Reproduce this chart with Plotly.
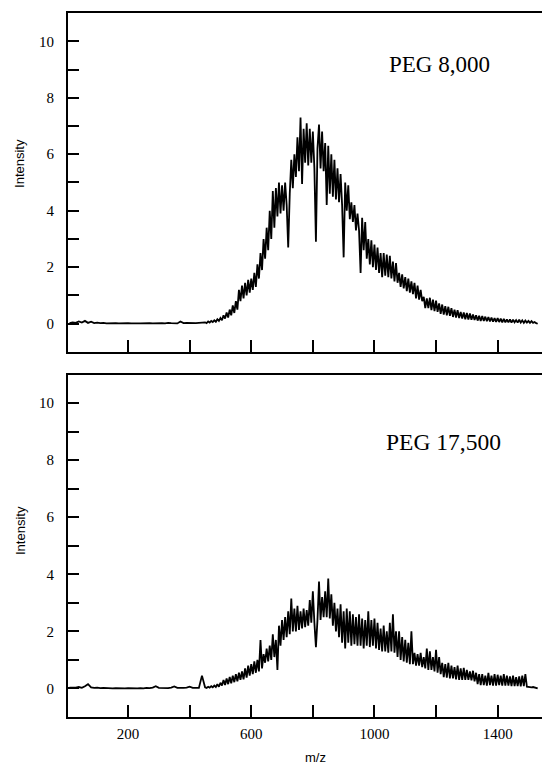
import plotly.graph_objects as go

# m/z grid: every 10 units on the flat baseline, every 5 units across the envelope
mz = list(range(10, 450, 10)) + list(range(450, 1531, 5))

# PEG 8,000 intensities
peg8000 = [
    # 10 - 440 (step 10)
    0.02, 0.05, 0.03, 0.08, 0.04, 0.10, 0.03, 0.07, 0.02, 0.04,
    0.02, 0.03, 0.01, 0.02, 0.01, 0.02, 0.01, 0.02, 0.01, 0.02,
    0.01, 0.02, 0.01, 0.01, 0.02, 0.01, 0.02, 0.01, 0.02, 0.01,
    0.02, 0.01, 0.03, 0.02, 0.02, 0.01, 0.08, 0.02, 0.03, 0.02,
    0.03, 0.02, 0.03, 0.04,
    # 450 - 1530 (step 5)
    0.05, 0.02, 0.08, 0.04, 0.10, 0.06, 0.12, 0.07, 0.16, 0.10,
    0.20, 0.12, 0.30, 0.18, 0.40, 0.22, 0.50, 0.30, 0.65, 0.38,
    0.80, 0.50, 1.20, 0.80, 1.35, 0.90, 1.45, 1.00, 1.55, 1.10,
    1.60, 1.20, 1.80, 1.30, 2.10, 1.60, 2.50, 1.90, 3.00, 2.30,
    3.40, 2.60, 4.00, 3.00, 4.70, 3.40, 4.80, 3.80, 5.00, 3.90,
    4.90, 4.00, 5.00, 4.20, 2.70, 4.60, 5.80, 4.80, 6.00, 5.20,
    6.60, 5.40, 7.30, 4.95, 6.90, 5.70, 7.10, 5.60, 6.90, 5.70,
    6.80, 5.50, 2.90, 6.20, 7.05, 5.50, 6.80, 5.40, 6.40, 4.20,
    6.30, 4.60, 6.00, 4.50, 5.80, 4.40, 5.50, 4.30, 5.30, 4.20,
    2.35, 5.00, 4.00, 4.90, 3.70, 4.30, 3.60, 4.20, 3.30, 3.90,
    3.30, 1.80, 3.75, 2.60, 3.60, 2.30, 3.00, 2.10, 2.95, 2.00,
    2.80, 1.90, 2.70, 1.80, 2.50, 1.65, 2.50, 1.70, 2.45, 1.65,
    2.40, 1.60, 2.20, 1.50, 2.15, 1.45, 1.80, 1.30, 1.75, 1.25,
    1.65, 1.15, 1.60, 1.10, 1.50, 1.05, 1.45, 0.90, 1.35, 0.85,
    1.20, 0.80, 0.95, 0.55, 0.90, 0.55, 0.92, 0.48, 0.85, 0.45,
    0.82, 0.42, 0.72, 0.35, 0.68, 0.32, 0.62, 0.30, 0.60, 0.28,
    0.55, 0.24, 0.50, 0.22, 0.48, 0.20, 0.42, 0.18, 0.40, 0.16,
    0.38, 0.15, 0.36, 0.14, 0.33, 0.13, 0.30, 0.11, 0.28, 0.10,
    0.27, 0.10, 0.25, 0.09, 0.24, 0.08, 0.22, 0.07, 0.20, 0.06,
    0.20, 0.06, 0.18, 0.05, 0.17, 0.05, 0.15, 0.05, 0.15, 0.04,
    0.14, 0.05, 0.13, 0.04, 0.14, 0.04, 0.12, 0.03, 0.11, 0.04,
    0.10, 0.03, 0.09, 0.03, 0.06, 0.02, 0.00,
]

# PEG 17,500 intensities
peg17500 = [
    # 10 - 440 (step 10)
    0.03, 0.02, 0.03, 0.05, 0.02, 0.08, 0.15, 0.04, 0.02, 0.03,
    0.01, 0.02, 0.01, 0.01, 0.00, 0.01, 0.00, 0.01, 0.00, 0.01,
    0.00, 0.01, 0.00, 0.01, 0.00, 0.02, 0.01, 0.03, 0.08, 0.02,
    0.01, 0.02, 0.01, 0.03, 0.07, 0.02, 0.01, 0.02, 0.03, 0.06,
    0.02, 0.03, 0.02, 0.45,
    # 450 - 1530 (step 5)
    0.04, 0.02, 0.06, 0.03, 0.08, 0.04, 0.10, 0.05, 0.15, 0.06,
    0.20, 0.10, 0.30, 0.12, 0.35, 0.15, 0.40, 0.18, 0.45, 0.22,
    0.50, 0.25, 0.55, 0.30, 0.60, 0.32, 0.70, 0.38, 0.80, 0.45,
    0.85, 0.50, 0.95, 0.55, 1.00, 0.60, 1.70, 0.70, 1.20, 0.90,
    1.40, 0.95, 1.50, 1.00, 1.90, 1.10, 1.70, 0.65, 2.20, 1.50,
    2.40, 1.70, 2.50, 1.80, 2.70, 1.90, 3.15, 2.00, 2.80, 2.00,
    2.90, 2.05, 2.70, 2.10, 2.80, 2.15, 2.75, 2.20, 3.10, 2.30,
    3.40, 2.30, 1.45, 2.40, 3.75, 2.40, 3.20, 2.50, 3.40, 2.50,
    3.85, 2.45, 3.30, 2.20, 3.00, 2.00, 2.80, 1.80, 2.95, 1.60,
    2.70, 1.40, 2.80, 1.60, 2.70, 1.50, 2.60, 1.55, 2.50, 1.50,
    2.60, 1.50, 2.45, 1.40, 2.40, 1.50, 2.70, 1.45, 2.40, 1.50,
    2.45, 1.40, 2.30, 1.35, 2.10, 1.30, 2.20, 1.30, 2.00, 1.25,
    2.30, 1.30, 2.60, 1.25, 2.00, 1.10, 2.00, 1.00, 1.80, 0.95,
    1.70, 0.90, 1.60, 0.85, 2.00, 0.85, 1.25, 0.80, 1.20, 0.80,
    1.25, 0.75, 1.10, 0.70, 1.40, 0.65, 1.30, 0.65, 1.10, 0.60,
    1.35, 0.55, 1.10, 0.50, 0.90, 0.40, 0.85, 0.38, 0.90, 0.35,
    0.80, 0.35, 0.75, 0.32, 0.80, 0.30, 0.70, 0.30, 0.72, 0.30,
    0.65, 0.30, 0.60, 0.28, 0.62, 0.25, 0.55, 0.15, 0.50, 0.12,
    0.50, 0.12, 0.45, 0.10, 0.55, 0.12, 0.45, 0.10, 0.50, 0.10,
    0.48, 0.12, 0.45, 0.10, 0.50, 0.10, 0.45, 0.10, 0.42, 0.08,
    0.45, 0.08, 0.40, 0.08, 0.42, 0.07, 0.45, 0.08, 0.50, 0.06,
    0.05, 0.06, 0.04, 0.05, 0.03, 0.02, 0.00,
]

x_ticks = [200, 400, 600, 800, 1000, 1200, 1400]
x_labels = ["200", "", "600", "", "1000", "", "1400"]
y_ticks = list(range(0, 11))
y_labels = [str(v) if v % 2 == 0 else "" for v in y_ticks]
panel_labels = ["PEG 8,000", "PEG 17,500"]

SERIF = "Liberation Serif"
SANS = "Liberation Sans"

fig = go.Figure()
fig.add_trace(go.Scatter(x=mz, y=peg8000, mode="lines",
                         line=dict(color="black", width=1.8),
                         xaxis="x", yaxis="y", showlegend=False))
fig.add_trace(go.Scatter(x=mz, y=peg17500, mode="lines",
                         line=dict(color="black", width=1.8),
                         xaxis="x2", yaxis="y2", showlegend=False))

xcommon = dict(range=[5, 1570], showgrid=False, zeroline=False,
               showline=True, linecolor="black", linewidth=2, mirror=True,
               ticks="inside", ticklen=12, tickwidth=1.6, tickcolor="black",
               tickvals=x_ticks, ticktext=x_labels,
               tickfont=dict(family=SERIF, size=15, color="black"))
ycommon = dict(range=[-1, 11], showgrid=False, zeroline=False,
               showline=True, linecolor="black", linewidth=2, mirror=False,
               ticks="inside", ticklen=11, tickwidth=1.6, tickcolor="black",
               tickvals=y_ticks, ticktext=y_labels, ticklabelstandoff=9,
               tickfont=dict(family=SERIF, size=15, color="black"))
yright = dict(range=[-1, 11], showgrid=False, zeroline=False, showline=False,
              side="right", ticks="inside", ticklen=5, tickwidth=1.6,
              tickcolor="black", tickvals=y_ticks, showticklabels=False)

# the page body has an 8px margin, so the figure is drawn 8px in from the corner
fig.update_layout(
    width=542, height=758,
    margin=dict(l=60, r=0, t=5, b=49),
    paper_bgcolor="white", plot_bgcolor="white",
    xaxis=dict(**xcommon, anchor="y", showticklabels=False),
    xaxis2=dict(**xcommon, anchor="y2", ticklabelstandoff=2),
    yaxis=dict(**ycommon, domain=[0.5185, 1.0], anchor="x"),
    yaxis2=dict(**ycommon, domain=[0.0, 0.4865], anchor="x2"),
    yaxis3=dict(**yright, overlaying="y", anchor="x"),
    yaxis4=dict(**yright, overlaying="y2", anchor="x2"),
)

annotations = [
    dict(text=panel_labels[0], x=1212, y=9.17, xref="x", yref="y",
         showarrow=False, xanchor="center", yanchor="middle",
         font=dict(family=SERIF, size=23, color="black")),
    dict(text=panel_labels[1], x=1224, y=8.63, xref="x2", yref="y2",
         showarrow=False, xanchor="center", yanchor="middle",
         font=dict(family=SERIF, size=23.5, color="black")),
    dict(text="Intensity", x=-0.0996, y=0.787, xref="paper", yref="paper",
         showarrow=False, textangle=-90, xanchor="center", yanchor="middle",
         font=dict(family=SANS, size=13, color="black")),
    dict(text="Intensity", x=-0.0996, y=0.2656, xref="paper", yref="paper",
         showarrow=False, textangle=-90, xanchor="center", yanchor="middle",
         font=dict(family=SANS, size=13, color="black")),
    dict(text="m/z", x=0.5145, y=-0.0582, xref="paper", yref="paper",
         showarrow=False, xanchor="center", yanchor="middle",
         font=dict(family=SANS, size=13, color="black")),
]
fig.update_layout(annotations=annotations)

fig.write_html("out.html")
